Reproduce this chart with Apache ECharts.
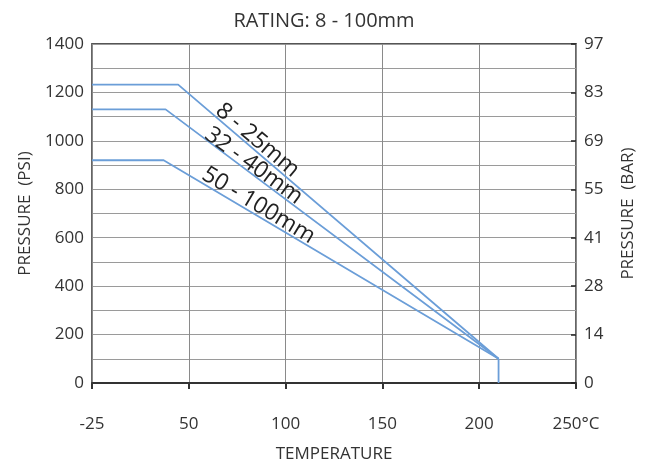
<!DOCTYPE html>
<html><head><meta charset="utf-8">
<script src="https://cdn.jsdelivr.net/npm/echarts@6/dist/echarts.min.js"></script>
<style>html,body{margin:0;padding:0;background:#fff}#c{width:648px;height:461px}</style>
</head><body><div id="c"></div>
<script>
// x positions are on the axis scale whose ticks are 0..250 (labelled below)
const xTickLabels = {0:'-25', 50:'50', 100:'100', 150:'150', 200:'200', 250:'250°C'};
const psiLabels = {0:'0', 200:'200', 400:'400', 600:'600', 800:'800', 1000:'1000', 1200:'1200', 1400:'1400'};
const barLabels = {0:'0', 200:'14', 400:'28', 600:'41', 800:'55', 1000:'69', 1200:'83', 1400:'97'};
const series8to25 = [[0,1232],[44.5,1232],[210,100]];
const series32to40 = [[0,1130],[38,1130],[210,100]];
const series50to100 = [[0,920],[37,920],[210,100]];
const dropLine = [[210,100],[210,0]];
const seriesNames = ['8 - 25mm','32 - 40mm','50 - 100mm'];
const labelPos = [[85.5,1002,-40],[83.5,897,-36],[86,733,-31]];

const FONT = 'Open Sans';
const blue = '#6b9ed8';
const chart = echarts.init(document.getElementById('c'));
function lineSeries(name, data, lp){
  return {
    name, type:'line', data, symbol:'none', silent:true,
    lineStyle:{color:blue,width:1.8}, animation:false,
    markPoint: lp ? {
      symbol:'circle', symbolSize:0, silent:true,
      data:[{coord:[lp[0],lp[1]]}],
      label:{show:true, formatter:name, position:'inside', rotate:lp[2],
        fontFamily:FONT, fontSize:23, color:'#222'}
    } : undefined
  };
}
chart.setOption({
  animation:false,
  title:{text:'RATING: 8 - 100mm', left:'center', top:6,
    textStyle:{fontFamily:FONT, fontSize:20, fontWeight:'normal', color:'#333'}},
  grid:{left:92, right:72, top:44, bottom:78, outerBoundsMode:'none', containLabel:false,
    show:true, borderColor:'#555', borderWidth:1.8},
  xAxis:{type:'value', min:0, max:250, interval:50, offset:19,
    axisLine:{show:true, lineStyle:{color:'#333', width:2}},
    axisTick:{show:true, length:6, lineStyle:{color:'#333', width:2}},
    axisLabel:{fontFamily:FONT, fontSize:17, color:'#333', margin:14,
      formatter:v=>xTickLabels[v] ?? ''},
    splitLine:{show:true, lineStyle:{color:'#8a8a8a', width:1}},
    name:'TEMPERATURE', nameLocation:'middle', nameGap:44,
    nameTextStyle:{fontFamily:FONT, fontSize:17, color:'#333'}},
  yAxis:[{type:'value', min:0, max:1400, interval:200,
    axisLine:{show:false}, axisTick:{show:false},
    minorTick:{show:false, splitNumber:2},
    minorSplitLine:{show:true, lineStyle:{color:'#9a9a9a', width:1}},
    splitLine:{show:true, lineStyle:{color:'#9a9a9a', width:1}},
    axisLabel:{fontFamily:FONT, fontSize:17, color:'#333', margin:8, formatter:v=>psiLabels[v] ?? ''},
    name:'PRESSURE  (PSI)', nameLocation:'middle', nameGap:58, nameRotate:90,
    nameTextStyle:{fontFamily:FONT, fontSize:17, color:'#333'}},
   {type:'value', min:0, max:1400, interval:200, position:'right',
    axisLine:{show:false}, axisTick:{show:true, inside:true, length:5, lineStyle:{color:'#222', width:1.5}},
    splitLine:{show:false},
    axisLabel:{fontFamily:FONT, fontSize:17, color:'#333', margin:8, formatter:v=>barLabels[v] ?? ''},
    name:'PRESSURE  (BAR)', nameLocation:'middle', nameGap:44, nameRotate:90,
    nameTextStyle:{fontFamily:FONT, fontSize:17, color:'#333'}}],
  series:[
    lineSeries(seriesNames[0], series8to25, labelPos[0]),
    lineSeries(seriesNames[1], series32to40, labelPos[1]),
    lineSeries(seriesNames[2], series50to100, labelPos[2]),
    lineSeries('drop', dropLine, null)
  ]
});
</script></body></html>
